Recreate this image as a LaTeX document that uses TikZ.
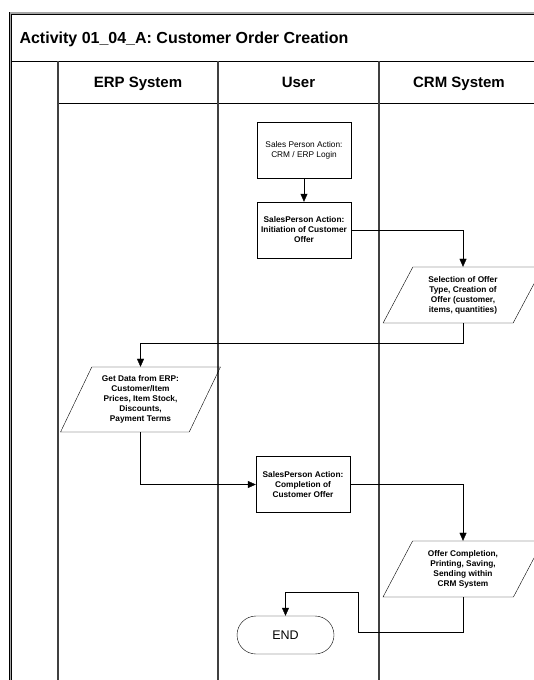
\documentclass[tikz,border=0pt]{standalone}
\usepackage{fontspec}
\setmainfont{Liberation Sans}
\usetikzlibrary{shapes.geometric,arrows.meta}

\tikzset{
  actbox/.style   = {shape=rectangle, draw, align=center,
                     font=\fontsize{8.3}{10}\selectfont\bfseries,
                     minimum width=94pt, minimum height=56pt, inner sep=1pt},
  loginbox/.style = {actbox, font=\fontsize{8.3}{10}\selectfont},
  databox/.style  = {trapezium, trapezium left angle=62,
                     trapezium right angle=118, trapezium stretches=true,
                     draw, align=center, inner sep=1pt,
                     font=\fontsize{8.3}{10}\selectfont\bfseries,
                     minimum width=160pt, minimum height=56pt},
  endbox/.style   = {shape=rectangle, rounded corners=19pt, draw,
                     minimum width=97pt, minimum height=38pt,
                     font=\fontsize{12.5}{14}\selectfont},
  lanehead/.style = {anchor=base, font=\fontsize{15}{18}\selectfont\bfseries},
  laneline/.style = {draw, line width=1.4pt, black!75}
}

\begin{document}
\begin{tikzpicture}
  [
    x = 1pt, y = -1pt,
    flow/.style = {draw, -{Triangle[length=8pt,width=7pt]}}
  ]
  \useasboundingbox (0,0) rectangle (534,680);
  \clip (0,0) rectangle (534,680);

  % pool frame and lanes
  \draw [line width=0.7pt, double=black!35, double distance=1.6pt]
    (10.5,13) rectangle (600,720);
  \draw (12,61) -- (600,61);
  \draw (58,103) -- (600,103);
  \foreach \lx in {58,218,379}
    \draw [laneline] (\lx,61) -- (\lx,700);

  \node [anchor=base west, font=\fontsize{16}{19}\selectfont\bfseries]
    (title) at (16,43) {Activity 01\_04\_A: Customer Order Creation};
  \node [lanehead] (erp)  at (138,87.5) {ERP System};
  \node [lanehead] (user) at (298.5,87.5) {User};
  \node [lanehead] (crm)  at (459,87.5) {CRM System};

  % activities
  \node [loginbox] (login)    at (304,150) {Sales Person Action:\\CRM / ERP Login};
  \node [actbox]   (initoff)  at (304,230) {SalesPerson Action:\\Initiation of Customer\\Offer};
  \node [databox]  (seloffer) at (463,295) {Selection of Offer\\Type, Creation of\\Offer (customer,\\items, quantities)};
  \node [databox, minimum height=65pt, trapezium left angle=63,
         trapezium right angle=117]
                   (getdata)  at (140.5,399.5) {Get Data from ERP:\\Customer/Item\\Prices, Item Stock,\\Discounts,\\Payment Terms};
  \node [actbox]   (compoff)  at (303,484.5) {SalesPerson Action:\\Completion of\\Customer Offer};
  \node [databox]  (sendoff)  at (463,569) {Offer Completion,\\Printing, Saving,\\Sending within\\CRM System};
  \node [endbox]   (endnode)  at (285.5,635) {END};

  \coordinate (back1) at (358,632);
  \coordinate (back2) at (358,592);

  % flow
  \draw [flow] (login) -- (initoff);
  \draw [flow] (initoff.east) -| (seloffer.north);
  \draw [flow] (seloffer.south) -- ++(0,20) -| (getdata.north);
  \draw [flow] (getdata.south) |- (compoff.west);
  \draw [flow] (compoff.east) -| (sendoff.north);
  \draw [flow] (sendoff.south) |- (back1) -- (back2) -| (endnode.north);
\end{tikzpicture}
\end{document}
